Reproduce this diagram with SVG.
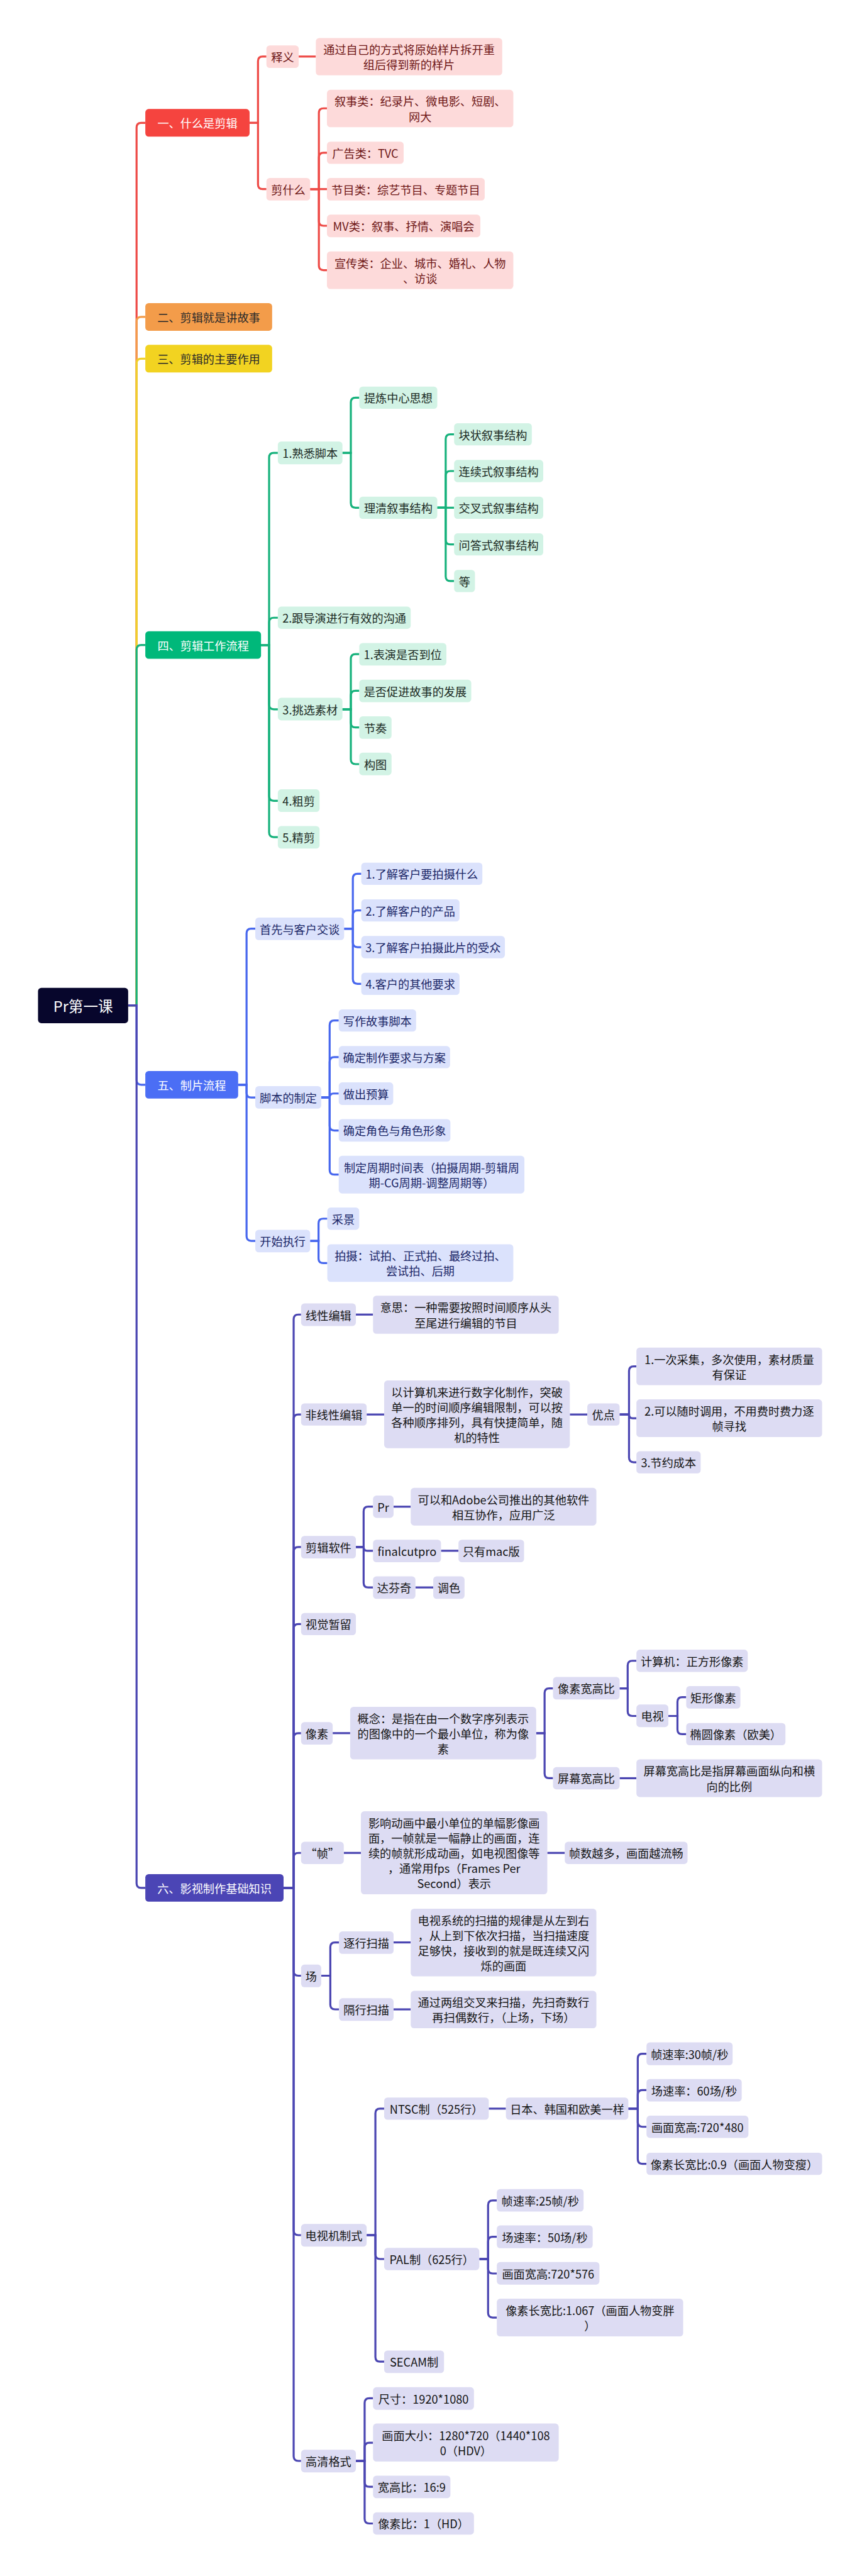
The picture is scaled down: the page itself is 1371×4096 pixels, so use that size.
<svg xmlns="http://www.w3.org/2000/svg" width="1371" height="4096" viewBox="0 0 1371 4096">
<style>
text{font-family:"Noto Sans CJK SC","Noto Sans",sans-serif;font-size:34px;text-anchor:middle;dominant-baseline:central;fill:#1a1a1a}
rect{rx:10px;ry:10px}
.c path{fill:none;stroke-width:6}
.cr path{stroke:#EE4B47}.co path{stroke:#F39C4A}.cy path{stroke:#F0D02A}.cg path{stroke:#17B27C}.cb path{stroke:#4767EE}.cp path{stroke:#4B46B2}
.root rect{fill:#07062C}.root text{fill:#fff;font-size:44px}
.h text{fill:#fff}.h1 rect{fill:#F5443F}.h2 rect{fill:#F39C4A}.h3 rect{fill:#F2D321}.h4 rect{fill:#00B87A}.h5 rect{fill:#4B6EF5}.h6 rect{fill:#4B45B5}
.h2 text,.h3 text{fill:#2a2a2a}
.r rect{fill:#FDDADA}.r text{fill:#6E1616}
.g rect{fill:#D2F3E5}.g text{fill:#1c2a24}
.b rect{fill:#DBE2FC}.b text{fill:#1B2768}
.p rect{fill:#DDDCF3}.p text{fill:#141414}
</style>
<g transform="scale(0.535)">
<g id="connectors" class="c">
<g class="cr">
<path d="M381 2988H406V379Q406 365 420 365H432"/>
<path d="M742 365H767V182Q767 168 781 168H792"/>
<path d="M742 365H767V548Q767 562 781 562H792"/>
<path d="M888 168H939"/>
<path d="M922 562H948V336Q948 322 962 322H972"/>
<path d="M922 562H948V468Q948 454 962 454H972"/>
<path d="M922 562H972"/>
<path d="M922 562H948V657Q948 671 962 671H972"/>
<path d="M922 562H948V789Q948 803 962 803H972"/>
</g>
<g class="co"><path d="M381 2988H406V956Q406 942 420 942H432"/></g>
<g class="cy"><path d="M381 2988H406V1080Q406 1066 420 1066H432"/></g>
<g class="cg">
<path d="M381 2988H406V1931Q406 1917 420 1917H432"/>
<path d="M776 1917H800V1360Q800 1346 814 1346H826"/>
<path d="M776 1917H800V1850Q800 1836 814 1836H826"/>
<path d="M776 1917H800V2094Q800 2108 814 2108H826"/>
<path d="M776 1917H800V2366Q800 2380 814 2380H826"/>
<path d="M776 1917H800V2474Q800 2488 814 2488H826"/>
<path d="M1018 1346H1043V1196Q1043 1182 1057 1182H1068"/>
<path d="M1018 1346H1043V1495Q1043 1509 1057 1509H1068"/>
<path d="M1300 1509H1325V1305Q1325 1291 1339 1291H1350"/>
<path d="M1300 1509H1325V1414Q1325 1400 1339 1400H1350"/>
<path d="M1300 1509H1350"/>
<path d="M1300 1509H1325V1604Q1325 1618 1339 1618H1350"/>
<path d="M1300 1509H1325V1713Q1325 1727 1339 1727H1350"/>
<path d="M1018 2108H1043V1958Q1043 1944 1057 1944H1068"/>
<path d="M1018 2108H1043V2067Q1043 2053 1057 2053H1068"/>
<path d="M1018 2108H1043V2148Q1043 2162 1057 2162H1068"/>
<path d="M1018 2108H1043V2257Q1043 2271 1057 2271H1068"/>
</g>
<g class="cb">
<path d="M381 2988H406V3210Q406 3224 420 3224H432"/>
<path d="M708 3224H733V2774Q733 2760 747 2760H759"/>
<path d="M708 3224H733V3248Q733 3262 747 3262H759"/>
<path d="M708 3224H733V3674Q733 3688 747 3688H759"/>
<path d="M1023 2760H1049V2611Q1049 2597 1063 2597H1074"/>
<path d="M1023 2760H1049V2720Q1049 2706 1063 2706H1074"/>
<path d="M1023 2760H1049V2801Q1049 2815 1063 2815H1074"/>
<path d="M1023 2760H1049V2910Q1049 2924 1063 2924H1074"/>
<path d="M955 3262H980V3047Q980 3033 994 3033H1007"/>
<path d="M955 3262H980V3156Q980 3142 994 3142H1007"/>
<path d="M955 3262H980Q980 3250 992 3250H1007"/>
<path d="M955 3262H980V3346Q980 3360 994 3360H1007"/>
<path d="M955 3262H980V3477Q980 3491 994 3491H1007"/>
<path d="M922 3688H947V3636Q947 3622 961 3622H973"/>
<path d="M922 3688H947V3740Q947 3754 961 3754H973"/>
</g>
<g class="cp">
<path d="M381 2988H406V5597Q406 5611 420 5611H432"/>
<path d="M843 5611H873V3921Q873 3907 887 3907H895"/>
<path d="M843 5611H873V4218Q873 4204 887 4204H895"/>
<path d="M843 5611H873V4612Q873 4598 887 4598H895"/>
<path d="M843 5611H873V4841Q873 4827 887 4827H895"/>
<path d="M843 5611H873V5165Q873 5151 887 5151H895"/>
<path d="M843 5611H873V5521Q873 5507 887 5507H895"/>
<path d="M843 5611H873V5858Q873 5872 887 5872H895"/>
<path d="M843 5611H873V6629Q873 6643 887 6643H895"/>
<path d="M843 5611H873V7300Q873 7314 887 7314H895"/>
<path d="M1058 3907H1109"/>
<path d="M1090 4204H1142"/>
<path d="M1694 4204H1746"/>
<path d="M1842 4204H1870V4075Q1870 4061 1884 4061H1892"/>
<path d="M1842 4204H1870Q1870 4215 1881 4215H1892"/>
<path d="M1842 4204H1870V4332Q1870 4346 1884 4346H1892"/>
<path d="M1058 4598H1081V4492Q1081 4478 1095 4478H1109"/>
<path d="M1058 4598H1081Q1081 4609 1092 4609H1109"/>
<path d="M1058 4598H1081V4704Q1081 4718 1095 4718H1109"/>
<path d="M1170 4478H1221"/>
<path d="M1311 4609H1363"/>
<path d="M1235 4718H1288"/>
<path d="M989 5151H1041"/>
<path d="M1594 5151H1619V5032Q1619 5018 1633 5018H1644"/>
<path d="M1594 5151H1619V5271Q1619 5285 1633 5285H1644"/>
<path d="M1842 5018H1866V4950Q1866 4936 1880 4936H1892"/>
<path d="M1842 5018H1866V5086Q1866 5100 1880 5100H1892"/>
<path d="M1987 5100H2014V5058Q2014 5044 2028 5044H2040"/>
<path d="M1987 5100H2014V5140Q2014 5154 2028 5154H2040"/>
<path d="M1842 5285H1892"/>
<path d="M1022 5507H1073"/>
<path d="M1627 5507H1679"/>
<path d="M955 5872H982V5787Q982 5773 996 5773H1008"/>
<path d="M955 5872H982V5958Q982 5972 996 5972H1008"/>
<path d="M1170 5773H1221"/>
<path d="M1170 5972H1221"/>
<path d="M1090 6643H1116V6281Q1116 6267 1130 6267H1142"/>
<path d="M1090 6643H1116V6700Q1116 6714 1130 6714H1142"/>
<path d="M1090 6643H1116V7005Q1116 7019 1130 7019H1142"/>
<path d="M1453 6267H1504"/>
<path d="M1868 6267H1896V6118Q1896 6104 1910 6104H1922"/>
<path d="M1868 6267H1896V6226Q1896 6212 1910 6212H1922"/>
<path d="M1868 6267H1896V6307Q1896 6321 1910 6321H1922"/>
<path d="M1868 6267H1896V6417Q1896 6431 1910 6431H1922"/>
<path d="M1425 6714H1451V6554Q1451 6540 1465 6540H1477"/>
<path d="M1425 6714H1451V6662Q1451 6648 1465 6648H1477"/>
<path d="M1425 6714H1451V6743Q1451 6757 1465 6757H1477"/>
<path d="M1425 6714H1451V6874Q1451 6888 1465 6888H1477"/>
<path d="M1058 7314H1084V7142Q1084 7128 1098 7128H1109"/>
<path d="M1058 7314H1084V7274Q1084 7260 1098 7260H1109"/>
<path d="M1058 7314H1084V7377Q1084 7391 1098 7391H1109"/>
<path d="M1058 7314H1084V7486Q1084 7500 1098 7500H1109"/>
</g>
</g>

<g id="root" class="root"><rect x="113" y="2936" width="268" height="105"/><text x="247" y="2988.5">Pr第一课</text></g>

<g id="s1" class="h h1"><rect x="432" y="324" width="310" height="82"/><text x="587" y="365">一、什么是剪辑</text></g>
<g class="r">
<g id="s1a"><rect x="792" y="135" width="96" height="67"/><text x="840" y="168.5">释义</text></g>
<g id="s1a1"><rect x="939" y="113" width="554" height="111"/><text x="1216" y="146">通过自己的方式将原始样片拆开重</text><text x="1216" y="191">组后得到新的样片</text></g>
<g id="s1b"><rect x="792" y="529" width="130" height="67"/><text x="857" y="562.5">剪什么</text></g>
<g id="s1b1"><rect x="972" y="267" width="554" height="111"/><text x="1249" y="300">叙事类：纪录片、微电影、短剧、</text><text x="1249" y="345">网大</text></g>
<g id="s1b2"><rect x="972" y="421" width="228" height="66"/><text x="1086" y="454">广告类：TVC</text></g>
<g id="s1b3"><rect x="972" y="529" width="469" height="67"/><text x="1206.5" y="562.5">节目类：综艺节目、专题节目</text></g>
<g id="s1b4"><rect x="972" y="638" width="456" height="67"/><text x="1200" y="671.5">MV类：叙事、抒情、演唱会</text></g>
<g id="s1b5"><rect x="972" y="747" width="554" height="112"/><text x="1249" y="780.5">宣传类：企业、城市、婚礼、人物</text><text x="1249" y="825.5">、访谈</text></g>
</g>

<g id="s2" class="h h2"><rect x="432" y="901" width="377" height="82"/><text x="620.5" y="942">二、剪辑就是讲故事</text></g>
<g id="s3" class="h h3"><rect x="432" y="1025" width="377" height="82"/><text x="620.5" y="1066">三、剪辑的主要作用</text></g>

<g id="s4" class="h h4"><rect x="432" y="1876" width="344" height="82"/><text x="604" y="1917">四、剪辑工作流程</text></g>
<g class="g">
<g id="s4a"><rect x="826" y="1312" width="192" height="68"/><text x="922" y="1346">1.熟悉脚本</text></g>
<g id="s4a1"><rect x="1068" y="1149" width="232" height="66"/><text x="1184" y="1182">提炼中心思想</text></g>
<g id="s4a2"><rect x="1068" y="1476" width="232" height="66"/><text x="1184" y="1509">理清叙事结构</text></g>
<g id="s4a2a"><rect x="1350" y="1258" width="231" height="66"/><text x="1465.5" y="1291">块状叙事结构</text></g>
<g id="s4a2b"><rect x="1350" y="1367" width="265" height="66"/><text x="1482.5" y="1400">连续式叙事结构</text></g>
<g id="s4a2c"><rect x="1350" y="1476" width="265" height="66"/><text x="1482.5" y="1509">交叉式叙事结构</text></g>
<g id="s4a2d"><rect x="1350" y="1585" width="265" height="66"/><text x="1482.5" y="1618">问答式叙事结构</text></g>
<g id="s4a2e"><rect x="1350" y="1694" width="62" height="66"/><text x="1381" y="1727">等</text></g>
<g id="s4b"><rect x="826" y="1803" width="395" height="66"/><text x="1023.5" y="1836">2.跟导演进行有效的沟通</text></g>
<g id="s4c"><rect x="826" y="2074" width="192" height="67"/><text x="922" y="2107.5">3.挑选素材</text></g>
<g id="s4c1"><rect x="1068" y="1911" width="259" height="67"/><text x="1197.5" y="1944.5">1.表演是否到位</text></g>
<g id="s4c2"><rect x="1068" y="2020" width="333" height="67"/><text x="1234.5" y="2053.5">是否促进故事的发展</text></g>
<g id="s4c3"><rect x="1068" y="2129" width="96" height="67"/><text x="1116" y="2162.5">节奏</text></g>
<g id="s4c4"><rect x="1068" y="2237" width="96" height="67"/><text x="1116" y="2270.5">构图</text></g>
<g id="s4d"><rect x="826" y="2346" width="124" height="67"/><text x="888" y="2379.5">4.粗剪</text></g>
<g id="s4e"><rect x="826" y="2455" width="124" height="67"/><text x="888" y="2488.5">5.精剪</text></g>
</g>

<g id="s5" class="h h5"><rect x="432" y="3183" width="276" height="82"/><text x="570" y="3224">五、制片流程</text></g>
<g class="b">
<g id="s5a"><rect x="759" y="2727" width="264" height="67"/><text x="891" y="2760.5">首先与客户交谈</text></g>
<g id="s5a1"><rect x="1074" y="2564" width="360" height="66"/><text x="1254" y="2597">1.了解客户要拍摄什么</text></g>
<g id="s5a2"><rect x="1074" y="2673" width="292" height="66"/><text x="1220" y="2706">2.了解客户的产品</text></g>
<g id="s5a3"><rect x="1074" y="2782" width="427" height="66"/><text x="1287.5" y="2815">3.了解客户拍摄此片的受众</text></g>
<g id="s5a4"><rect x="1074" y="2891" width="292" height="66"/><text x="1220" y="2924">4.客户的其他要求</text></g>
<g id="s5b"><rect x="759" y="3228" width="196" height="67"/><text x="857" y="3261.5">脚本的制定</text></g>
<g id="s5b1"><rect x="1007" y="3000" width="230" height="66"/><text x="1122" y="3033">写作故事脚本</text></g>
<g id="s5b2"><rect x="1007" y="3109" width="331" height="66"/><text x="1172.5" y="3142">确定制作要求与方案</text></g>
<g id="s5b3"><rect x="1007" y="3217" width="162" height="67"/><text x="1088" y="3250.5">做出预算</text></g>
<g id="s5b4"><rect x="1007" y="3326" width="332" height="67"/><text x="1173" y="3359.5">确定角色与角色形象</text></g>
<g id="s5b5"><rect x="1007" y="3435" width="552" height="112"/><text x="1283" y="3468.5">制定周期时间表（拍摄周期-剪辑周</text><text x="1283" y="3513.5">期-CG周期-调整周期等）</text></g>
<g id="s5c"><rect x="759" y="3655" width="163" height="67"/><text x="840.5" y="3688.5">开始执行</text></g>
<g id="s5c1"><rect x="973" y="3589" width="95" height="66"/><text x="1020.5" y="3622">采景</text></g>
<g id="s5c2"><rect x="973" y="3698" width="553" height="112"/><text x="1249.5" y="3731.5">拍摄：试拍、正式拍、最终过拍、</text><text x="1249.5" y="3776.5">尝试拍、后期</text></g>
</g>

<g id="s6" class="h h6"><rect x="432" y="5570" width="411" height="82"/><text x="637.5" y="5611">六、影视制作基础知识</text></g>
<g class="p">
<g id="s6a"><rect x="895" y="3874" width="163" height="67"/><text x="976.5" y="3907.5">线性编辑</text></g>
<g id="s6a1"><rect x="1109" y="3851" width="552" height="113"/><text x="1385" y="3885">意思：一种需要按照时间顺序从头</text><text x="1385" y="3930">至尾进行编辑的节目</text></g>
<g id="s6b"><rect x="895" y="4171" width="195" height="66"/><text x="992.5" y="4204">非线性编辑</text></g>
<g id="s6b1"><rect x="1142" y="4103" width="552" height="201"/><text x="1418" y="4136">以计算机来进行数字化制作，突破</text><text x="1418" y="4181">单一的时间顺序编辑限制，可以按</text><text x="1418" y="4226">各种顺序排列，具有快捷简单，随</text><text x="1418" y="4271">机的特性</text></g>
<g id="s6b2"><rect x="1746" y="4171" width="96" height="66"/><text x="1794" y="4204">优点</text></g>
<g id="s6b2a"><rect x="1892" y="4005" width="552" height="112"/><text x="2168" y="4038.5">1.一次采集，多次使用，素材质量</text><text x="2168" y="4083.5">有保证</text></g>
<g id="s6b2b"><rect x="1892" y="4159" width="552" height="112"/><text x="2168" y="4192.5">2.可以随时调用，不用费时费力逐</text><text x="2168" y="4237.5">帧寻找</text></g>
<g id="s6b2c"><rect x="1892" y="4313" width="191" height="66"/><text x="1987.5" y="4346">3.节约成本</text></g>
<g id="s6c"><rect x="895" y="4565" width="163" height="67"/><text x="976.5" y="4598.5">剪辑软件</text></g>
<g id="s6c1"><rect x="1109" y="4445" width="61" height="66"/><text x="1139.5" y="4478">Pr</text></g>
<g id="s6c1a"><rect x="1221" y="4422" width="552" height="112"/><text x="1497" y="4455.5">可以和Adobe公司推出的其他软件</text><text x="1497" y="4500.5">相互协作，应用广泛</text></g>
<g id="s6c2"><rect x="1109" y="4576" width="202" height="67"/><text x="1210" y="4609.5">finalcutpro</text></g>
<g id="s6c2a"><rect x="1363" y="4576" width="195" height="67"/><text x="1460.5" y="4609.5">只有mac版</text></g>
<g id="s6c3"><rect x="1109" y="4685" width="126" height="67"/><text x="1172" y="4718.5">达芬奇</text></g>
<g id="s6c3a"><rect x="1288" y="4685" width="93" height="67"/><text x="1334.5" y="4718.5">调色</text></g>
<g id="s6d"><rect x="895" y="4794" width="163" height="66"/><text x="976.5" y="4827">视觉暂留</text></g>
<g id="s6e"><rect x="895" y="5118" width="94" height="67"/><text x="942" y="5151.5">像素</text></g>
<g id="s6e1"><rect x="1041" y="5073" width="553" height="156"/><text x="1317.5" y="5106">概念：是指在由一个数字序列表示</text><text x="1317.5" y="5151">的图像中的一个最小单位，称为像</text><text x="1317.5" y="5196">素</text></g>
<g id="s6e1a"><rect x="1644" y="4984" width="198" height="67"/><text x="1743" y="5017.5">像素宽高比</text></g>
<g id="s6e1a1"><rect x="1892" y="4903" width="331" height="66"/><text x="2057.5" y="4936">计算机：正方形像素</text></g>
<g id="s6e1a2"><rect x="1892" y="5066" width="95" height="67"/><text x="1939.5" y="5099.5">电视</text></g>
<g id="s6e1a2a"><rect x="2040" y="5011" width="161" height="67"/><text x="2120.5" y="5044.5">矩形像素</text></g>
<g id="s6e1a2b"><rect x="2040" y="5121" width="295" height="66"/><text x="2187.5" y="5154">椭圆像素（欧美）</text></g>
<g id="s6e1b"><rect x="1644" y="5252" width="198" height="66"/><text x="1743" y="5285">屏幕宽高比</text></g>
<g id="s6e1b1"><rect x="1892" y="5229" width="552" height="112"/><text x="2168" y="5262.5">屏幕宽高比是指屏幕画面纵向和横</text><text x="2168" y="5307.5">向的比例</text></g>
<g id="s6f"><rect x="895" y="5474" width="127" height="66"/><text x="958.5" y="5507">“帧”</text></g>
<g id="s6f1"><rect x="1073" y="5383" width="554" height="247"/><text x="1350" y="5416.5">影响动画中最小单位的单幅影像画</text><text x="1350" y="5461.5">面，一帧就是一幅静止的画面，连</text><text x="1350" y="5506.5">续的帧就形成动画，如电视图像等</text><text x="1350" y="5551.5">，通常用fps（Frames Per</text><text x="1350" y="5596.5">Second）表示</text></g>
<g id="s6f2"><rect x="1679" y="5474" width="365" height="66"/><text x="1861.5" y="5507">帧数越多，画面越流畅</text></g>
<g id="s6g"><rect x="895" y="5839" width="60" height="67"/><text x="925" y="5872.5">场</text></g>
<g id="s6g1"><rect x="1008" y="5740" width="162" height="67"/><text x="1089" y="5773.5">逐行扫描</text></g>
<g id="s6g1a"><rect x="1221" y="5673" width="552" height="201"/><text x="1497" y="5706">电视系统的扫描的规律是从左到右</text><text x="1497" y="5751">，从上到下依次扫描，当扫描速度</text><text x="1497" y="5796">足够快，接收到的就是既连续又闪</text><text x="1497" y="5841">烁的画面</text></g>
<g id="s6g2"><rect x="1008" y="5939" width="162" height="67"/><text x="1089" y="5972.5">隔行扫描</text></g>
<g id="s6g2a"><rect x="1221" y="5917" width="552" height="111"/><text x="1497" y="5950">通过两组交叉来扫描，先扫奇数行</text><text x="1497" y="5995">再扫偶数行，（上场，下场）</text></g>
<g id="s6h"><rect x="895" y="6610" width="195" height="67"/><text x="992.5" y="6643.5">电视机制式</text></g>
<g id="s6h1"><rect x="1142" y="6234" width="311" height="66"/><text x="1297.5" y="6267">NTSC制（525行）</text></g>
<g id="s6h1a"><rect x="1504" y="6234" width="364" height="66"/><text x="1686" y="6267">日本、韩国和欧美一样</text></g>
<g id="s6h1a1"><rect x="1922" y="6070" width="256" height="68"/><text x="2050" y="6104">帧速率:30帧/秒</text></g>
<g id="s6h1a2"><rect x="1922" y="6179" width="283" height="67"/><text x="2063.5" y="6212.5">场速率：60场/秒</text></g>
<g id="s6h1a3"><rect x="1922" y="6288" width="303" height="66"/><text x="2073.5" y="6321">画面宽高:720*480</text></g>
<g id="s6h1a4"><rect x="1922" y="6398" width="522" height="66"/><text x="2183" y="6431">像素长宽比:0.9（画面人物变瘦）</text></g>
<g id="s6h2"><rect x="1142" y="6681" width="283" height="66"/><text x="1283.5" y="6714">PAL制（625行）</text></g>
<g id="s6h2a"><rect x="1477" y="6506" width="258" height="67"/><text x="1606" y="6539.5">帧速率:25帧/秒</text></g>
<g id="s6h2b"><rect x="1477" y="6614" width="285" height="68"/><text x="1619.5" y="6648">场速率：50场/秒</text></g>
<g id="s6h2c"><rect x="1477" y="6723" width="305" height="67"/><text x="1629.5" y="6756.5">画面宽高:720*576</text></g>
<g id="s6h2d"><rect x="1477" y="6832" width="554" height="112"/><text x="1754" y="6865.5">像素长宽比:1.067（画面人物变胖</text><text x="1754" y="6910.5">）</text></g>
<g id="s6h3"><rect x="1142" y="6986" width="178" height="67"/><text x="1231" y="7019.5">SECAM制</text></g>
<g id="s6i"><rect x="895" y="7281" width="163" height="67"/><text x="976.5" y="7314.5">高清格式</text></g>
<g id="s6i1"><rect x="1109" y="7095" width="300" height="67"/><text x="1259" y="7128.5">尺寸：1920*1080</text></g>
<g id="s6i2"><rect x="1109" y="7203" width="552" height="113"/><text x="1385" y="7237">画面大小：1280*720（1440*108</text><text x="1385" y="7282">0（HDV）</text></g>
<g id="s6i3"><rect x="1109" y="7358" width="230" height="67"/><text x="1224" y="7391.5">宽高比：16:9</text></g>
<g id="s6i4"><rect x="1109" y="7467" width="300" height="66"/><text x="1259" y="7500">像素比：1（HD）</text></g>
</g>
</g>
</svg>
